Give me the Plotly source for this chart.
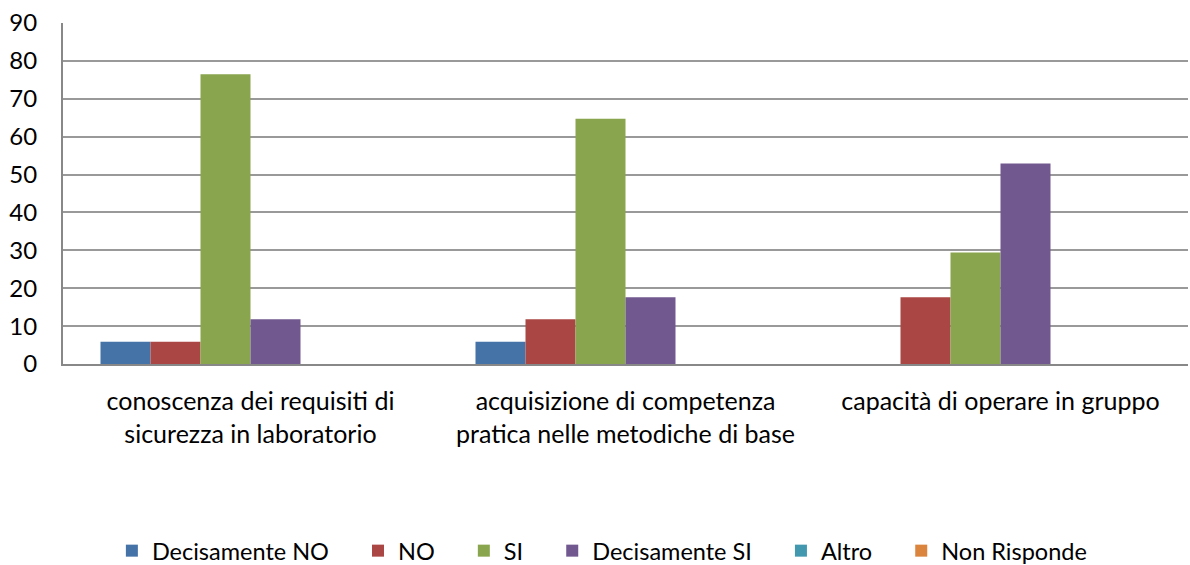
import plotly.graph_objects as go

categories = ["conoscenza dei requisiti di<br>sicurezza in laboratorio",
              "acquisizione di competenza<br>pratica nelle metodiche di base",
              "capacità di operare in gruppo"]
series_names = ["Decisamente NO", "NO", "SI", "Decisamente SI", "Altro", "Non Risponde"]
values = [
    [5.9, 5.9, 0.0],
    [5.9, 11.8, 17.6],
    [76.5, 64.7, 29.4],
    [11.8, 17.6, 52.9],
    [0.0, 0.0, 0.0],
    [0.0, 0.0, 0.0],
]
colors = ["#4572A7", "#AA4643", "#89A54E", "#71588F", "#4198AF", "#DB843D"]

pad = "\u00a0" * 4
fig = go.Figure()
for i, (name, vals, c) in enumerate(zip(series_names, values, colors)):
    label = name + (pad if i < len(series_names) - 1 else "")
    fig.add_trace(go.Bar(name=label, x=categories, y=vals, marker_color=c,
                         marker_line_width=0))

font = dict(family="Lato, Open Sans, sans-serif", size=24, color="black")
xfont = dict(family="Lato, Open Sans, sans-serif", size=25, color="black")
lfont = dict(family="Lato, Open Sans, sans-serif", size=23.5, color="black")
fig.update_layout(
    width=1190, height=565,
    margin=dict(l=63, r=2, t=23, b=201),
    barmode="group", bargap=0.2, bargroupgap=0,
    plot_bgcolor="white", paper_bgcolor="white",
    font=font,
    showlegend=True,
    legend=dict(orientation="h", x=0.479, xanchor="center",
                yref="container", y=0.025, yanchor="middle",
                font=lfont, itemwidth=30, traceorder="normal", tracegroupgap=0),
    xaxis=dict(showline=True, linecolor="#888888", linewidth=2, ticks="",
               tickfont=xfont, showgrid=False, automargin=False, ticklabelstandoff=14),
    yaxis=dict(range=[0, 90], dtick=10, showgrid=True, gridcolor="#999999", gridwidth=1.5,
               showline=True, linecolor="#888888", linewidth=2, ticks="",
               tickfont=font, zeroline=False, ticklabelstandoff=19, automargin=False),
)
fig.write_html("out.html", config={"displayModeBar": False},
               post_script="document.body.style.margin='0';document.body.style.overflow='hidden';")
